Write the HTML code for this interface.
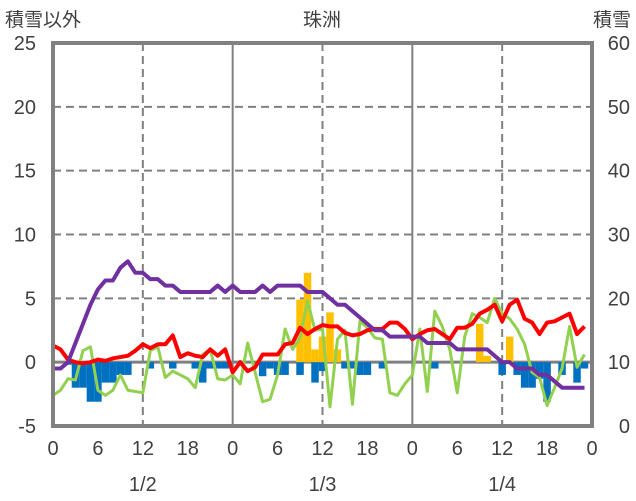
<!DOCTYPE html>
<html><head><meta charset="utf-8">
<style>
html,body{margin:0;padding:0;background:#fff;}
svg{display:block;font-family:"Liberation Sans","Noto Sans CJK JP",sans-serif;}
</style></head>
<body>
<svg id="chart" width="636" height="501" viewBox="0 0 636 501">
<text x="5" y="26" font-size="19" fill="#404040">積雪以外</text>
<text x="322" y="26" font-size="19" fill="#404040" text-anchor="middle">珠洲</text>
<text x="631" y="26" font-size="19" fill="#404040" text-anchor="end">積雪</text>
<g id="grid"></g>
<g id="bars"></g>
<g id="lines"></g>
<g id="frame"></g>
<g id="labels"></g>
</svg>
<script>
const leftTicks = [25,20,15,10,5,0,-5];
const rightTicks = [60,50,40,30,20,10,0];
const hourTicks = ["0","6","12","18","0","6","12","18","0","6","12","18","0"];
const dateLabels = ["1/2","1/3","1/4"];
const temperature = [1.3,1.0,0.2,0,-0.1,0,0.2,0.1,0.3,0.4,0.5,0.9,1.4,1.1,1.4,1.4,2.1,0.4,0.7,0.5,0.4,1.0,0.5,1.0,
 -0.8,0,-0.7,-0.4,0.6,0.6,0.6,1.4,1.5,2.7,2.2,2.6,2.9,2.8,2.8,2.3,2.1,2.2,2.5,2.6,2.6,3.1,3.1,2.6,
 1.8,2.2,2.5,2.6,2.2,1.8,2.7,2.7,3.0,3.8,4.1,4.5,3.2,4.5,4.9,3.4,3.1,2.2,3.1,3.2,3.5,3.8,2.2,2.8];
const greenSeries = [-2.6,-2.2,-1.3,-1.4,0.9,1.2,-2.2,-2.6,-2.2,-1.0,-2.2,-2.3,-2.4,0.9,1.2,-1.2,-0.7,-1.0,-1.3,-2.0,0.6,1.0,-1.3,-1.4,
 -1.0,-1.7,1.5,-0.8,-3.1,-2.9,-1.0,2.6,1.0,1.9,4.8,2.5,2.6,-3.5,1.8,2.5,-3.3,3.2,2.7,1.9,1.8,-2.4,-2.6,-1.7,
 -1.0,2.6,-2.3,4.0,2.8,1.0,-2.4,2.0,3.8,3.5,3.1,5.0,3.8,3.4,2.6,1.4,-0.8,-1.2,-3.4,-2.0,-0.5,2.8,-0.4,0.6];
// snow depth on right axis (cm)
const snowDepth = [9,9,10,13,16,19,21.4,22.8,22.8,24.8,25.8,24,24,23,23,22,22,21,21,21,21,21,22,21,
 22,21,21,21,22,21,22,22,22,22,21,21,21,20,19,19,18,17,16,15,15,14,14,14,
 14,14,13,13,13,13,12,12,12,12,12,11,10,10,9,9,9,8,8,7,6,6,6,6];
const snowfallHours = [33,34,35,36,37,38,57,58,61];
const snowfallValues = [4.9,7.0,1.0,2.0,3.9,1.0,3.0,0.5,2.0];
const decreaseHours = [2,3,4,5,6,7,8,9,10,13,16,19,20,21,22,23,28,29,30,31,33,35,36,39,40,41,42,44,51,60,62,63,64,65,66,68,70,71];
const decreaseValues = [-0.2,-2.0,-2.0,-3.1,-3.1,-1.6,-1.6,-1.0,-1.0,-0.5,-0.5,-0.5,-1.6,-0.5,-0.5,-0.5,-1.1,-0.5,-1.0,-1.0,-1.0,-1.6,-0.7,-0.5,-0.5,-1.0,-1.0,-0.5,-0.5,-1.0,-1.0,-2.0,-2.0,-1.3,-3.1,-1.0,-1.6,-0.5];

const NS='http://www.w3.org/2000/svg';
const X0=53,X1=592,Y0=43,Y1=426;
function xs(h){return X0+(X1-X0)*h/72;}
function yL(v){return Y1-(v+5)*(Y1-Y0)/30;}
function yR(v){return Y1-v*(Y1-Y0)/60;}
function mk(tag,attrs,parent){const e=document.createElementNS(NS,tag);for(const k in attrs)e.setAttribute(k,attrs[k]);parent.appendChild(e);return e;}
const grid=document.getElementById('grid'),bars=document.getElementById('bars'),lines=document.getElementById('lines'),frame=document.getElementById('frame'),labels=document.getElementById('labels');

leftTicks.forEach(v=>{
  if(v!==25&&v!==-5&&v!==0){
    const g=mk('line',{x1:X0,x2:X1,y1:yL(v),y2:yL(v),stroke:'#808080','stroke-width':2,'stroke-dasharray':'8,5'},grid);
    
    
  }
  const t=mk('text',{x:36,y:yL(v)+7,'font-size':20,fill:'#404040','text-anchor':'end'},labels);
  t.textContent=v;
  
  
});
rightTicks.forEach(v=>{
  const t=mk('text',{x:630,y:yR(v)+7,'font-size':20,fill:'#404040','text-anchor':'end'},labels);
  t.textContent=v;
  
  
});
hourTicks.forEach((s,i)=>{
  const h=i*6;
  if(h>0&&h<72){
    if(h%24===12){
      const l=mk('line',{x1:xs(h),x2:xs(h),y1:Y0,y2:Y1,stroke:'#808080','stroke-width':2,'stroke-dasharray':'8,5'},grid);
      
      
    } else if(h%24===0){
      const l=mk('line',{x1:xs(h),x2:xs(h),y1:Y0,y2:Y1,stroke:'#808080','stroke-width':2},grid);
      
      
    }
  }
  const t=mk('text',{x:xs(h),y:455,'font-size':20,fill:'#404040','text-anchor':'middle'},labels);
  t.textContent=s;
  
  
});
dateLabels.forEach((s,i)=>{
  const t=mk('text',{x:xs(12+24*i),y:491,'font-size':20,fill:'#404040','text-anchor':'middle'},labels);
  t.textContent=s;
  
  
});
const bw=(X1-X0)/72;
decreaseHours.forEach((h,i)=>{
  const v=decreaseValues[i];
  const r=mk('rect',{x:xs(h)-bw/2,y:yL(0),width:bw,height:yL(v)-yL(0),fill:'#0070c0'},bars);
  
  
});
snowfallHours.forEach((h,i)=>{
  const v=snowfallValues[i];
  const r=mk('rect',{x:xs(h)-bw/2,y:yL(v),width:bw,height:yL(0)-yL(v),fill:'#ffc000'},bars);
  
  
});
const z=mk('line',{x1:X0,x2:X1,y1:yL(0),y2:yL(0),stroke:'#808080','stroke-width':3},grid);


function poly(arr,fy,color,w,name){
  const p=mk('polyline',{points:arr.map((v,i)=>xs(i)+','+fy(v)).join(' '),fill:'none',stroke:color,'stroke-width':w,'stroke-linejoin':'round'},lines);
  
  
}
poly(greenSeries,yL,'#92d050',3,'green-series-line');
poly(temperature,yL,'#ff0000',4,'temperature-line');
poly(snowDepth,yR,'#7030a0',4,'snow-depth-line');
const f=mk('rect',{x:X0,y:Y0,width:X1-X0,height:Y1-Y0,fill:'none',stroke:'#808080','stroke-width':4},frame);


</script>
</body></html>
